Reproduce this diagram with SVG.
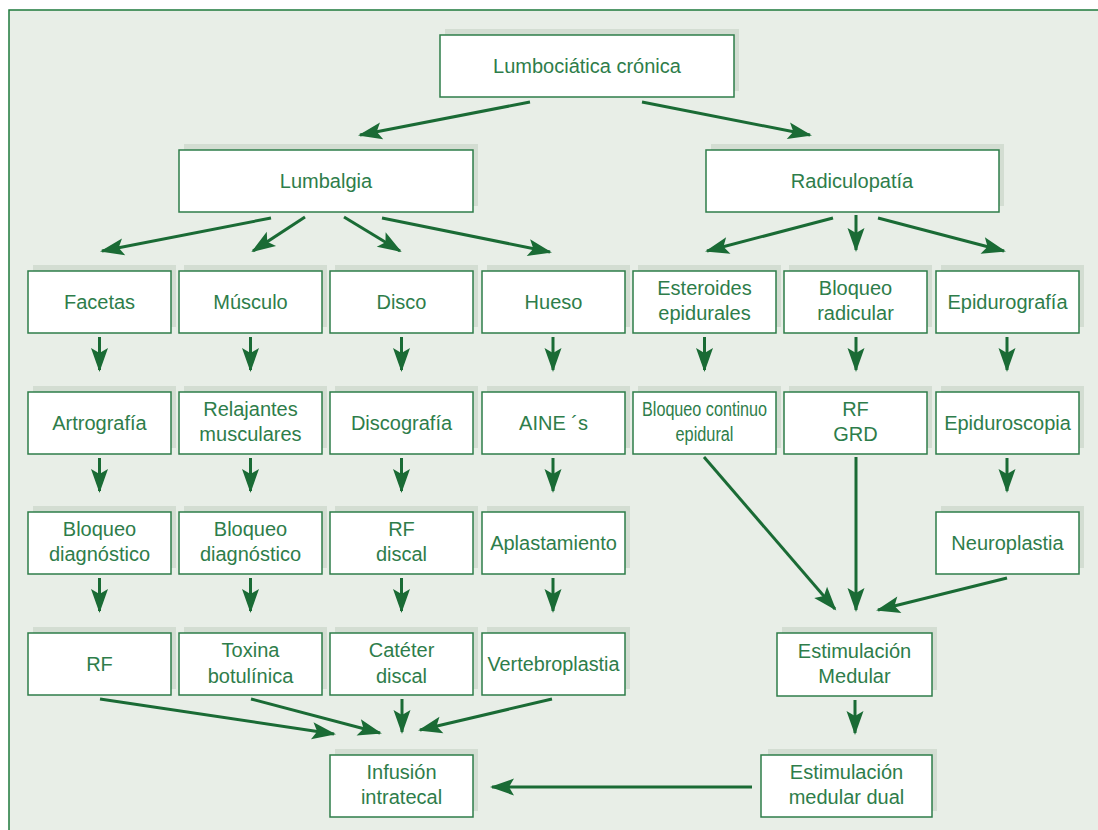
<svg xmlns="http://www.w3.org/2000/svg" width="1098" height="830" viewBox="0 0 1098 830">
<defs>
<style>
.sh{fill:#d3ddd2}
.bx{fill:#fff;stroke:#2e7d4a;stroke-width:1.5}
.t{font-family:"Liberation Sans",Arial,sans-serif;font-size:20px;fill:#2e7d4a;text-anchor:middle}
.c line{stroke:#1a6b35;stroke-width:3;marker-end:url(#ah)}
</style>
<marker id="ah" markerUnits="userSpaceOnUse" viewBox="-26 -11 30 22" markerWidth="30" markerHeight="22" refX="0" refY="0" orient="auto">
<path d="M2,0 L-22,-8.5 L-17,0 L-22,8.5 Z" fill="#1a6b35"/>
</marker>
</defs>
<rect width="1098" height="830" fill="#fff"/>
<rect x="9" y="10" width="1089" height="820" fill="#e8eee7"/>
<path d="M9,830 V10 H1098" fill="none" stroke="#1e7a3c" stroke-width="1.5"/>

<g id="n-lumbociatica"><rect class="sh" x="445" y="29" width="294" height="62"/><rect class="bx" x="440" y="35" width="294" height="62"/><text class="t" x="587" y="73">Lumbociática crónica</text></g>
<g id="n-lumbalgia"><rect class="sh" x="184" y="144" width="294" height="62"/><rect class="bx" x="179" y="150" width="294" height="62"/><text class="t" x="326" y="188">Lumbalgia</text></g>
<g id="n-radiculopatia"><rect class="sh" x="711" y="144" width="293" height="62"/><rect class="bx" x="706" y="150" width="293" height="62"/><text class="t" x="852" y="188">Radiculopatía</text></g>

<g id="n-facetas"><rect class="sh" x="33" y="265" width="143" height="62"/><rect class="bx" x="28" y="271" width="143" height="62"/><text class="t" x="99.5" y="309">Facetas</text></g>
<g id="n-musculo"><rect class="sh" x="184" y="265" width="143" height="62"/><rect class="bx" x="179" y="271" width="143" height="62"/><text class="t" x="250.5" y="309">Músculo</text></g>
<g id="n-disco"><rect class="sh" x="335" y="265" width="143" height="62"/><rect class="bx" x="330" y="271" width="143" height="62"/><text class="t" x="401.5" y="309">Disco</text></g>
<g id="n-hueso"><rect class="sh" x="487" y="265" width="143" height="62"/><rect class="bx" x="482" y="271" width="143" height="62"/><text class="t" x="553.5" y="309">Hueso</text></g>
<g id="n-esteroides"><rect class="sh" x="638" y="265" width="143" height="62"/><rect class="bx" x="633" y="271" width="143" height="62"/><text class="t" x="704.5" y="295">Esteroides</text><text class="t" x="704.5" y="320">epidurales</text></g>
<g id="n-bloqueo-radicular"><rect class="sh" x="789" y="265" width="143" height="62"/><rect class="bx" x="784" y="271" width="143" height="62"/><text class="t" x="855.5" y="295">Bloqueo</text><text class="t" x="855.5" y="320">radicular</text></g>
<g id="n-epidurografia"><rect class="sh" x="941" y="265" width="143" height="62"/><rect class="bx" x="936" y="271" width="143" height="62"/><text class="t" x="1007.5" y="309">Epidurografía</text></g>

<g id="n-artrografia"><rect class="sh" x="33" y="386" width="143" height="62"/><rect class="bx" x="28" y="392" width="143" height="62"/><text class="t" x="99.5" y="430">Artrografía</text></g>
<g id="n-relajantes"><rect class="sh" x="184" y="386" width="143" height="62"/><rect class="bx" x="179" y="392" width="143" height="62"/><text class="t" x="250.5" y="416">Relajantes</text><text class="t" x="250.5" y="441">musculares</text></g>
<g id="n-discografia"><rect class="sh" x="335" y="386" width="143" height="62"/><rect class="bx" x="330" y="392" width="143" height="62"/><text class="t" x="401.5" y="430">Discografía</text></g>
<g id="n-aines"><rect class="sh" x="487" y="386" width="143" height="62"/><rect class="bx" x="482" y="392" width="143" height="62"/><text class="t" x="553.5" y="430">AINE ´s</text></g>
<g id="n-bloqueo-continuo"><rect class="sh" x="638" y="386" width="143" height="62"/><rect class="bx" x="633" y="392" width="143" height="62"/><text class="t" x="704.5" y="416" textLength="125" lengthAdjust="spacingAndGlyphs">Bloqueo continuo</text><text class="t" x="704.5" y="441" textLength="58" lengthAdjust="spacingAndGlyphs">epidural</text></g>
<g id="n-rf-grd"><rect class="sh" x="789" y="386" width="143" height="62"/><rect class="bx" x="784" y="392" width="143" height="62"/><text class="t" x="855.5" y="416">RF</text><text class="t" x="855.5" y="441">GRD</text></g>
<g id="n-epiduroscopia"><rect class="sh" x="941" y="386" width="143" height="62"/><rect class="bx" x="936" y="392" width="143" height="62"/><text class="t" x="1007.5" y="430">Epiduroscopia</text></g>

<g id="n-bloqueo-diag-1"><rect class="sh" x="33" y="506" width="143" height="62"/><rect class="bx" x="28" y="512" width="143" height="62"/><text class="t" x="99.5" y="536">Bloqueo</text><text class="t" x="99.5" y="561">diagnóstico</text></g>
<g id="n-bloqueo-diag-2"><rect class="sh" x="184" y="506" width="143" height="62"/><rect class="bx" x="179" y="512" width="143" height="62"/><text class="t" x="250.5" y="536">Bloqueo</text><text class="t" x="250.5" y="561">diagnóstico</text></g>
<g id="n-rf-discal"><rect class="sh" x="335" y="506" width="143" height="62"/><rect class="bx" x="330" y="512" width="143" height="62"/><text class="t" x="401.5" y="536">RF</text><text class="t" x="401.5" y="561">discal</text></g>
<g id="n-aplastamiento"><rect class="sh" x="487" y="506" width="143" height="62"/><rect class="bx" x="482" y="512" width="143" height="62"/><text class="t" x="553.5" y="550">Aplastamiento</text></g>
<g id="n-neuroplastia"><rect class="sh" x="941" y="506" width="143" height="62"/><rect class="bx" x="936" y="512" width="143" height="62"/><text class="t" x="1007.5" y="550">Neuroplastia</text></g>

<g id="n-rf"><rect class="sh" x="33" y="627" width="143" height="62"/><rect class="bx" x="28" y="633" width="143" height="62"/><text class="t" x="99.5" y="671">RF</text></g>
<g id="n-toxina"><rect class="sh" x="184" y="627" width="143" height="62"/><rect class="bx" x="179" y="633" width="143" height="62"/><text class="t" x="250.5" y="657">Toxina</text><text class="t" x="250.5" y="683">botulínica</text></g>
<g id="n-cateter"><rect class="sh" x="335" y="627" width="143" height="62"/><rect class="bx" x="330" y="633" width="143" height="62"/><text class="t" x="401.5" y="657">Catéter</text><text class="t" x="401.5" y="683">discal</text></g>
<g id="n-vertebroplastia"><rect class="sh" x="487" y="627" width="143" height="62"/><rect class="bx" x="482" y="633" width="143" height="62"/><text class="t" x="553.5" y="671" textLength="132" lengthAdjust="spacingAndGlyphs">Vertebroplastia</text></g>
<g id="n-estim-medular"><rect class="sh" x="782" y="627" width="155" height="63"/><rect class="bx" x="777" y="633" width="155" height="63"/><text class="t" x="854.5" y="658">Estimulación</text><text class="t" x="854.5" y="683">Medular</text></g>

<g id="n-infusion"><rect class="sh" x="335" y="749" width="143" height="62"/><rect class="bx" x="330" y="755" width="143" height="62"/><text class="t" x="401.5" y="779">Infusión</text><text class="t" x="401.5" y="804">intratecal</text></g>
<g id="n-estim-dual"><rect class="sh" x="768" y="749" width="169" height="62"/><rect class="bx" x="761" y="755" width="171" height="62"/><text class="t" x="846.5" y="779">Estimulación</text><text class="t" x="846.5" y="804">medular dual</text></g>

<g id="connectors" class="c">
<line x1="530" y1="102" x2="360" y2="135"/>
<line x1="642" y1="102" x2="810" y2="135"/>
<line x1="271" y1="218" x2="102" y2="251"/>
<line x1="305" y1="217" x2="253" y2="251"/>
<line x1="344" y1="217" x2="400" y2="251"/>
<line x1="382" y1="218" x2="550" y2="252"/>
<line x1="833" y1="218" x2="707" y2="251"/>
<line x1="856" y1="215" x2="856" y2="250"/>
<line x1="878" y1="218" x2="1004" y2="251"/>

<line x1="99.5" y1="337" x2="99.5" y2="370"/>
<line x1="250.5" y1="337" x2="250.5" y2="370"/>
<line x1="401.5" y1="337" x2="401.5" y2="370"/>
<line x1="553" y1="337" x2="553" y2="370"/>
<line x1="704.5" y1="337" x2="704.5" y2="370"/>
<line x1="856" y1="337" x2="856" y2="370"/>
<line x1="1007" y1="337" x2="1007" y2="370"/>

<line x1="99.5" y1="458" x2="99.5" y2="491"/>
<line x1="250.5" y1="458" x2="250.5" y2="491"/>
<line x1="401.5" y1="458" x2="401.5" y2="491"/>
<line x1="553" y1="458" x2="553" y2="491"/>
<line x1="1007" y1="458" x2="1007" y2="491"/>

<line x1="99.5" y1="578" x2="99.5" y2="611"/>
<line x1="250.5" y1="578" x2="250.5" y2="611"/>
<line x1="401.5" y1="578" x2="401.5" y2="611"/>
<line x1="553" y1="578" x2="553" y2="611"/>

<line x1="704" y1="457" x2="835" y2="609"/>
<line x1="856" y1="457" x2="856" y2="610"/>
<line x1="1007" y1="578" x2="878" y2="610"/>
<line x1="855" y1="700" x2="855" y2="733"/>
<line x1="752" y1="787" x2="492" y2="787"/>

<line x1="100" y1="699" x2="334" y2="734"/>
<line x1="251" y1="699" x2="380" y2="733"/>
<line x1="402" y1="699" x2="402" y2="732"/>
<line x1="552" y1="699" x2="420" y2="730"/>
</g>
</svg>
